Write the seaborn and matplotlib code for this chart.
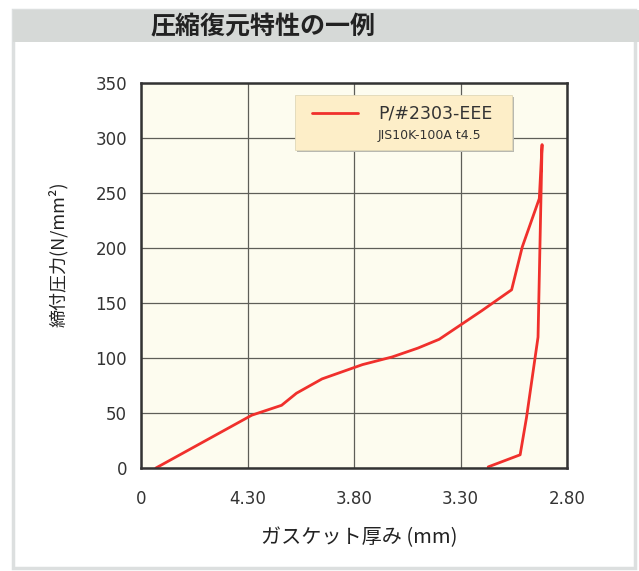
import numpy as np
import pandas as pd
import matplotlib
matplotlib.use("Agg")
import matplotlib.pyplot as plt
from matplotlib.patches import Rectangle
import seaborn as sns

# ── Data ───────────────────────────────────────────────────────
# loading then unloading, one continuous path
thickness = [4.73, 4.28, 4.14, 4.07, 3.95, 3.76, 3.62, 3.50, 3.40,
             3.30, 3.20, 3.06, 3.01, 2.93, 2.917,
             2.931, 2.936, 2.99, 3.02, 3.17]
stress    = [0, 48, 57, 68, 81, 94, 101, 109, 117,
             130, 143, 162, 201, 245, 294,
             165, 119, 46, 12, 1]

x_ticks = [4.80, 4.30, 3.80, 3.30, 2.80]
x_tick_labels = ["0", "4.30", "3.80", "3.30", "2.80"]
y_ticks = [0, 50, 100, 150, 200, 250, 300, 350]

series_name = "P/#2303-EEE"
series_sub = "JIS10K-100A t4.5"

df = pd.DataFrame({"thickness": thickness, "stress": stress})

# ── Style ──────────────────────────────────────────────────────
sns.set_style("white")
plt.rcParams["font.family"] = ["Noto Sans CJK JP", "DejaVu Sans"]

W, H = 639, 571
fig = plt.figure(figsize=(W / 100, H / 100), dpi=100)

# outer frame + title band
fig.patches.append(Rectangle((13 / W, 1 - 568 / H), (635 - 13) / W, (568 - 10) / H,
                             transform=fig.transFigure, fill=False,
                             edgecolor="#dcdfdf", linewidth=2.5))
fig.patches.append(Rectangle((13 / W, 1 - 42 / H), (639 - 13) / W, 32 / H,
                             transform=fig.transFigure, facecolor="#d6d9d7",
                             edgecolor="none"))
fig.text(263 / W, 1 - 27 / H, "圧縮復元特性の一例", ha="center", va="center",
         fontsize=18, fontweight="bold", color="#222222")

ax = fig.add_axes([141 / W, 1 - 468 / H, (567 - 141) / W, (468 - 83) / H])
ax.set_facecolor("#fdfcef")

sns.lineplot(data=df, x="thickness", y="stress", sort=False, estimator=None,
             color="#f0302c", linewidth=2, ax=ax)

ax.set_xlim(4.80, 2.80)
ax.set_ylim(0, 350)
ax.set_xticks(x_ticks)
ax.set_xticklabels(x_tick_labels)
ax.set_yticks(y_ticks)
ax.grid(True, color="#5e5e58", linewidth=0.9)
ax.set_axisbelow(True)
for s in ax.spines.values():
    s.set_color("#333333")
    s.set_linewidth(1.8)
ax.tick_params(length=0, labelsize=12, colors="#333333")
ax.tick_params(axis="y", pad=10)
ax.tick_params(axis="x", pad=16)
for lbl in ax.get_xticklabels() + ax.get_yticklabels():
    lbl.set_family(["DejaVu Sans"])

ax.set_xlabel("")
ax.set_ylabel("")
fig.text(359 / W, 1 - 538 / H, "ガスケット厚み (mm)", ha="center", va="center",
         fontsize=14.5, color="#222222")
fig.text(58 / W, 1 - 254 / H, "締付圧力(N/mm²)", ha="center", va="center",
         rotation=90, fontsize=13, color="#222222")

# legend box
bx0, bx1 = (295 - 141) / 426, (512 - 141) / 426
by0, by1 = 1 - (150 - 83) / 385, 1 - (95 - 83) / 385
ax.add_patch(Rectangle((bx0 + 0.004, by0 - 0.005), bx1 - bx0, by1 - by0,
                       transform=ax.transAxes, facecolor="#b8b8b0",
                       edgecolor="none", zorder=4))
ax.add_patch(Rectangle((bx0, by0), bx1 - bx0, by1 - by0,
                       transform=ax.transAxes, facecolor="#fdeec8",
                       edgecolor="#e0d8b8", linewidth=0.6, zorder=5))
ax.plot([(312 - 141) / 426, (358 - 141) / 426], [0.922, 0.922],
        transform=ax.transAxes, color="#f0302c", linewidth=2, zorder=6)
ax.text((378 - 141) / 426, 0.922, series_name, transform=ax.transAxes,
        ha="left", va="center", fontsize=12.5, color="#333333",
        family=["DejaVu Sans"], zorder=6)
ax.text((378 - 141) / 426, 1 - (136 - 83) / 385, series_sub,
        transform=ax.transAxes, ha="left", va="center", fontsize=9,
        color="#333333", family=["DejaVu Sans"], zorder=6)

fig.savefig("out.png", dpi=100)
